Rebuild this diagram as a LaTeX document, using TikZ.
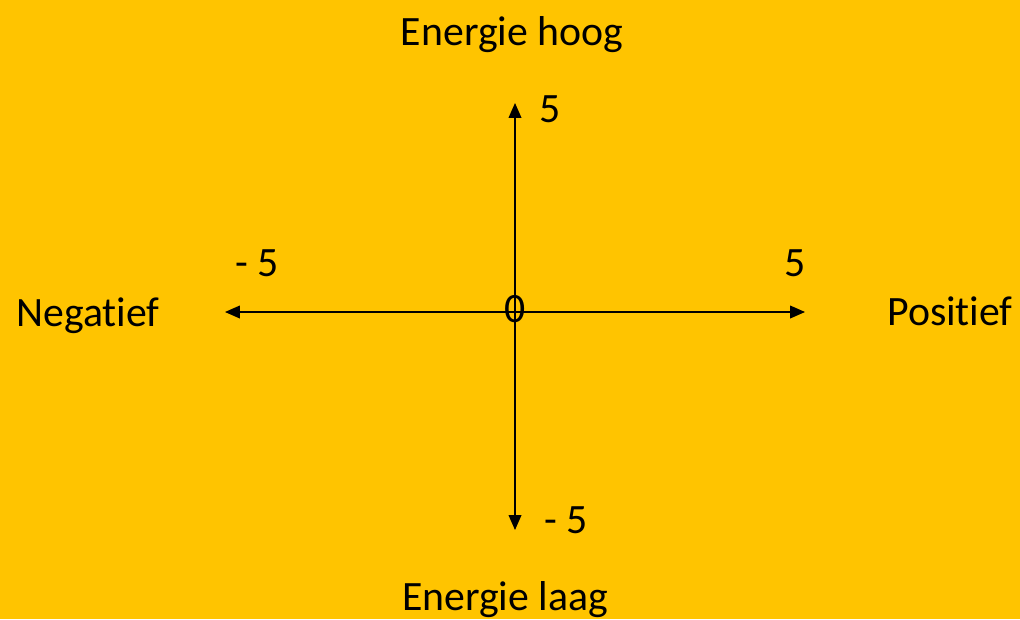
\documentclass[tikz,border=0pt]{standalone}
\usepackage{fontspec}
\setmainfont[Ligatures=NoCommon]{Carlito}
\usetikzlibrary{arrows.meta,positioning}
\definecolor{gold}{HTML}{FFC400}

\begin{document}
\begin{tikzpicture}[x=0.025cm, y=-0.025cm,
      lbl/.style={anchor=base, inner sep=0pt, font=\fontsize{29.7}{34}\selectfont},
      axis/.style={{Triangle[length=10.5pt,width=9pt]}-{Triangle[length=10.5pt,width=9pt]}, line width=0.9pt}
    ]
      \useasboundingbox (0,0) rectangle (1020,619);
      \fill[gold] (0,0) rectangle (1020,619);

      \coordinate (west) at (225,312);
      \coordinate (east) at (805,312);
      \coordinate (north) at (515,103);
      \coordinate (south) at (515,530);

      \draw[axis] (west) -- (east);
      \draw[axis] (north) -- (south);

      \node[lbl] (hoog) at (512,45) {Energie hoog};
      \node[lbl] (laag) at (505,610) {Energie laag};
      \node[lbl] (neg) at (88,326) {Negatief};
      \node[lbl] (pos) at (950,325) {Positief};

      \node[lbl] (xmin) at (257,276) {- 5};
      \node[lbl] (xmax) at (795,276) {5};
      \node[lbl] (ymax) at (550,122) {5};
      \node[lbl] (ymin) at (566,533) {- 5};
      \node[lbl] (zero) at (515,322) {0};
    \end{tikzpicture}
\end{document}
